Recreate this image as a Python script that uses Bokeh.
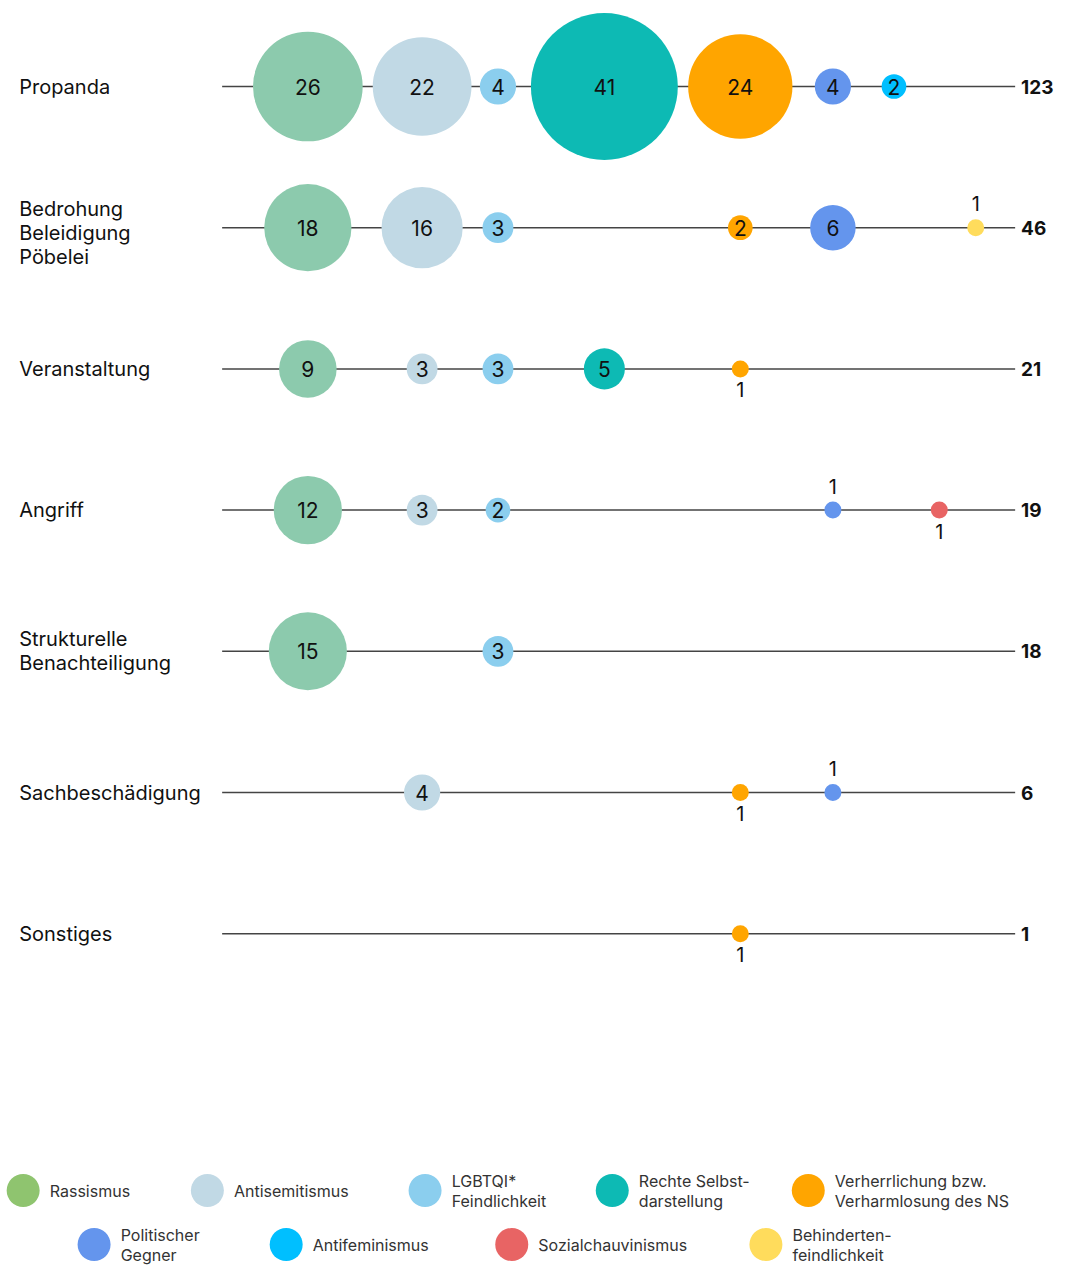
from bokeh.plotting import figure
from bokeh.models import Range1d, ColumnDataSource
from bokeh.embed import file_html
from bokeh.resources import INLINE
from bokeh.core.properties import value

# ---------------- data ----------------
categories = ["Rassismus", "Antisemitismus", "LGBTQI* Feindlichkeit",
              "Rechte Selbstdarstellung", "Verherrlichung bzw. Verharmlosung des NS",
              "Politischer Gegner", "Antifeminismus", "Sozialchauvinismus",
              "Behindertenfeindlichkeit"]
legend_labels = ["Rassismus", "Antisemitismus", "LGBTQI*\nFeindlichkeit",
                 "Rechte Selbst-\ndarstellung", "Verherrlichung bzw.\nVerharmlosung des NS",
                 "Politischer\nGegner", "Antifeminismus", "Sozialchauvinismus",
                 "Behinderten-\nfeindlichkeit"]
row_labels = ["Propanda", "Bedrohung\nBeleidigung\nPöbelei", "Veranstaltung", "Angriff",
              "Strukturelle\nBenachteiligung", "Sachbeschädigung", "Sonstiges"]

propaganda    = [26, 22, 4, 41, 24, 4, 2, 0, 0]
bedrohung     = [18, 16, 3, 0, 2, 6, 0, 0, 1]
veranstaltung = [9, 3, 3, 5, 1, 0, 0, 0, 0]
angriff       = [12, 3, 2, 0, 0, 1, 0, 1, 0]
strukturell   = [15, 0, 3, 0, 0, 0, 0, 0, 0]
sachbesch     = [0, 4, 0, 0, 1, 1, 0, 0, 0]
sonstiges     = [0, 0, 0, 0, 1, 0, 0, 0, 0]
rows = [propaganda, bedrohung, veranstaltung, angriff, strukturell, sachbesch, sonstiges]

# ---------------- styles / layout ----------------
bubble_colors = ["#8ccaad", "#c1d9e5", "#8bceee", "#0dbab4", "#ffa500",
                 "#6495ed", "#00bfff", "#e86464", "#ffdc5c"]
legend_colors = ["#8fc46f"] + bubble_colors[1:]
# side of the label for bubbles too small to hold their number (1 = above, -1 = below)
small_label_side = [-1, -1, -1, -1, -1, 1, -1, -1, 1]

COL_X = [312, 428, 505, 613, 751, 845, 907, 953, 990]
ROW_Y0, ROW_STEP = 86, 141.2
LINE_X0, LINE_X1 = 225, 1030
LABEL_X, TOTAL_X = 19, 1036
ROW_LABEL_DY = [0, 5, 0, 0, 0, 0, 0]

LEG_ROW_Y = [1190, 1244]
LEG_X = [23, 210, 431, 621, 820, 95, 290, 519, 777]
LEG_ROW = [0, 0, 0, 0, 0, 1, 1, 1, 1]

FONT = "Inter"


def diameter(v):
    return 15.9 * v ** 0.5 + 1.1 * v


W, H = 1057, 1265
p = figure(width=W, height=H, output_backend="svg", toolbar_location=None,
           x_range=Range1d(0, 1073), y_range=Range1d(H, 0),
           x_axis_type=None, y_axis_type=None, min_border=0)
p.outline_line_color = None
p.grid.visible = False
p.background_fill_color = "white"

row_y = [ROW_Y0 + i * ROW_STEP for i in range(len(rows))]

# lines
p.segment(x0=[LINE_X0] * len(rows), x1=[LINE_X1] * len(rows), y0=row_y, y1=row_y,
          line_color="#444444", line_width=1.5)

# bubbles
bx, by, bs, bc, bt = [], [], [], [], []
ox, oy, ot, oyoff = [], [], [], []
for ri, vals in enumerate(rows):
    for ci, v in enumerate(vals):
        if v <= 0:
            continue
        bx.append(COL_X[ci]); by.append(row_y[ri]); bs.append(diameter(v))
        bc.append(bubble_colors[ci])
        if v > 1:
            bt.append(str(v))
        else:
            bt.append("")
            ox.append(COL_X[ci]); oy.append(row_y[ri]); ot.append(str(v))
            oyoff.append(-24 if small_label_side[ci] > 0 else 21)

src = ColumnDataSource(dict(x=bx, y=by, s=bs, c=bc, t=bt))
p.scatter("x", "y", size="s", fill_color="c", line_color=None, source=src)
p.text("x", "y", text="t", source=src, text_align="center", text_baseline="middle",
       text_font=value(FONT), text_font_size="21px", text_color="#111111")

osrc = ColumnDataSource(dict(x=ox, y=oy, t=ot, yo=oyoff))
p.text("x", "y", text="t", y_offset="yo", source=osrc, text_align="center",
       text_baseline="middle", text_font=value(FONT), text_font_size="20px",
       text_color="#111111")

# row labels
p.text(x=[LABEL_X] * len(rows), y=[y + d for y, d in zip(row_y, ROW_LABEL_DY)],
       text=row_labels, text_align="left",
       text_baseline="middle", text_font=value(FONT), text_font_size="20px",
       text_color="#111111", text_line_height=1.0)

# totals
totals = [str(sum(v)) for v in rows]
p.text(x=[TOTAL_X] * len(rows), y=row_y, text=totals, text_align="left",
       text_baseline="middle", text_font=value(FONT), text_font_size="19px",
       text_font_style="bold", text_color="#111111")

# legend
ly = [LEG_ROW_Y[r] for r in LEG_ROW]
p.scatter(x=LEG_X, y=ly, size=33, fill_color=legend_colors, line_color=None)
p.text(x=[x + 27 for x in LEG_X], y=ly, text=legend_labels, text_align="left",
       text_baseline="middle", text_font=value(FONT), text_font_size="16px",
       text_color="#333333", text_line_height=1.0)

open("out.html", "w").write(file_html(p, INLINE))
